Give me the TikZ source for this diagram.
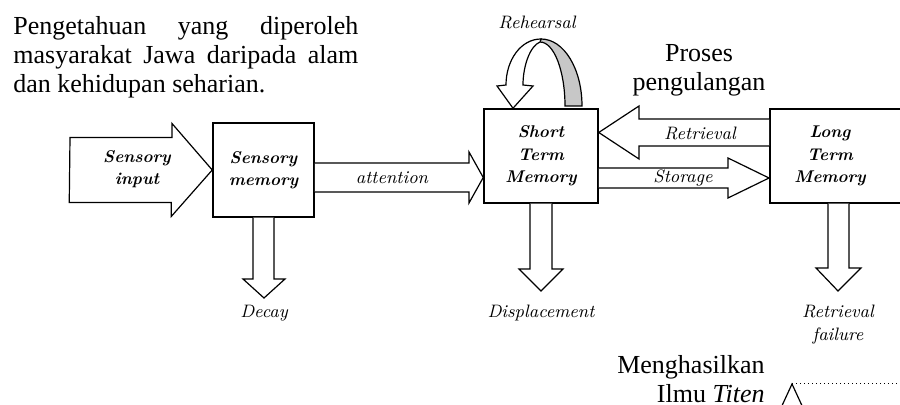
\documentclass[tikz,border=0pt]{standalone}
\usepackage{fontspec}
\newfontfamily\timesfont{Liberation Serif}
\begin{document}
\begin{tikzpicture}[x=0.5pt,y=-0.5pt,
	membox/.style={draw, line width=0.75pt, minimum height=47pt, inner sep=0pt},
	blk/.style={draw, line width=0.6pt, fill=white, line join=miter},
	lbl/.style={align=center, inner sep=0pt, font=\fontsize{8.5}{11.25}\selectfont\bfseries\itshape},
	sublbl/.style={align=center, inner sep=0pt, font=\fontsize{9}{11.5}\selectfont\itshape},
	note/.style={inner sep=0pt, font=\timesfont\fontsize{13}{14.5}\selectfont}]
		\useasboundingbox (0,0) rectangle (900,405);
		\clip (0,0) rectangle (900,405);
		
		% boxes
		\node[membox, minimum width=50.5pt] (smem) at (263.5,170) {};
		\node[membox, minimum width=57pt] (stm) at (541,156) {};
		\node[membox, minimum width=70pt, anchor=west] (ltm) at (769,156) {};
		
		% sensory input
		\coordinate (inp) at (70,170);
		\draw[blk] (inp) ++(0,-32.5) -- ++(102,0) -- ++(0,-14)
			-- (smem.west) -- ++(-41,46.5) -- ++(0,-14) -- ++(-102,0) -- cycle;
		
		% attention
		\draw[blk] (smem.east |- 0,163) -- (469,163) -- (469,152)
			-- (stm.west |- 0,177.5) -- (469,203) -- (469,192) -- (smem.east |- 0,192);
		
		% retrieval and storage
		\draw[blk] (ltm.west |- 0,119) -- (639,119) -- (639,106)
			-- (stm.east |- 0,132.5) -- (639,159) -- (639,146) -- (ltm.west |- 0,146);
		\draw[blk] (stm.east |- 0,168) -- (728,168) -- (728,158)
			-- (ltm.west |- 0,178) -- (728,198) -- (728,188) -- (stm.east |- 0,188);
		
		% down arrows
		\draw[blk] (smem.south -| 253,0) -- (253,279) -- (243,279) -- (264,298)
			-- (285,279) -- (274,279) -- (smem.south -| 274,0);
		\draw[blk] (stm.south -| 530,0) -- (530,269) -- (519,269) -- (541,291)
			-- (563,269) -- (552,269) -- (stm.south -| 552,0);
		\draw[blk] (ltm.south -| 828,0) -- (828,268) -- (816,268) -- (838,291)
			-- (861,268) -- (849,268) -- (ltm.south -| 849,0);
		
		% rehearsal loop
		\filldraw[line width=0.6pt, fill=black!22] (541,39) .. controls (564,39) and (582,69) .. (582,106)
			-- (565,106) .. controls (565,71) and (554,42) .. (540,42) -- cycle;
		\filldraw[line width=0.6pt, fill=white] (541,39) .. controls (521,39) and (506,60) .. (506,85)
			-- (497,86) -- (stm.north -| 513,0) -- (533,86) -- (523,85)
			.. controls (523,66) and (530,46) .. (540,42) -- cycle;
		
		% labels
		\node[lbl] (sinp) at (137,169) {Sensory\\input};
		\node[lbl] (smemtxt) at (smem) {Sensory\\memory};
		\node[lbl] (stmtxt) at (stm) {Short\\Term\\Memory};
		\node[lbl] (ltmtxt) at (830,156) {Long\\Term\\Memory};
		\node[sublbl] (att) at (392,178) {attention};
		\node[sublbl] (retr) at (700,133) {Retrieval};
		\node[sublbl] (stor) at (683,178) {Storage};
		\node[sublbl] (decay) at (264,313) {Decay};
		\node[sublbl] (disp) at (541,313) {Displacement};
		\node[sublbl] (rfail) at (838,324.5) {Retrieval\\failure};
		\node[sublbl] (reh) at (537,22) {Rehearsal};
		
		% notes
		\node[note, anchor=north west, text width=172.5pt, align=justify] (pengetahuan) at (13,16)
			{\hyphenpenalty=10000 Pengetahuan yang diperoleh\linebreak masyarakat Jawa daripada alam\linebreak dan kehidupan seharian.};
		\node[note, anchor=north, align=center] (proses) at (699,44) {Proses\\pengulangan};
		\node[note, anchor=north east, align=right] (hasil) at (765,355) {Menghasilkan\\Ilmu \textit{Titen}};
		
		\coordinate (caret) at (792,384);
		\draw[line width=0.6pt] (780,410) -- (caret) -- (804,410);
		\draw[line width=0.5pt, dash pattern=on 0.5pt off 1.5pt] (caret) -- (900,384);
\end{tikzpicture}
\end{document}
